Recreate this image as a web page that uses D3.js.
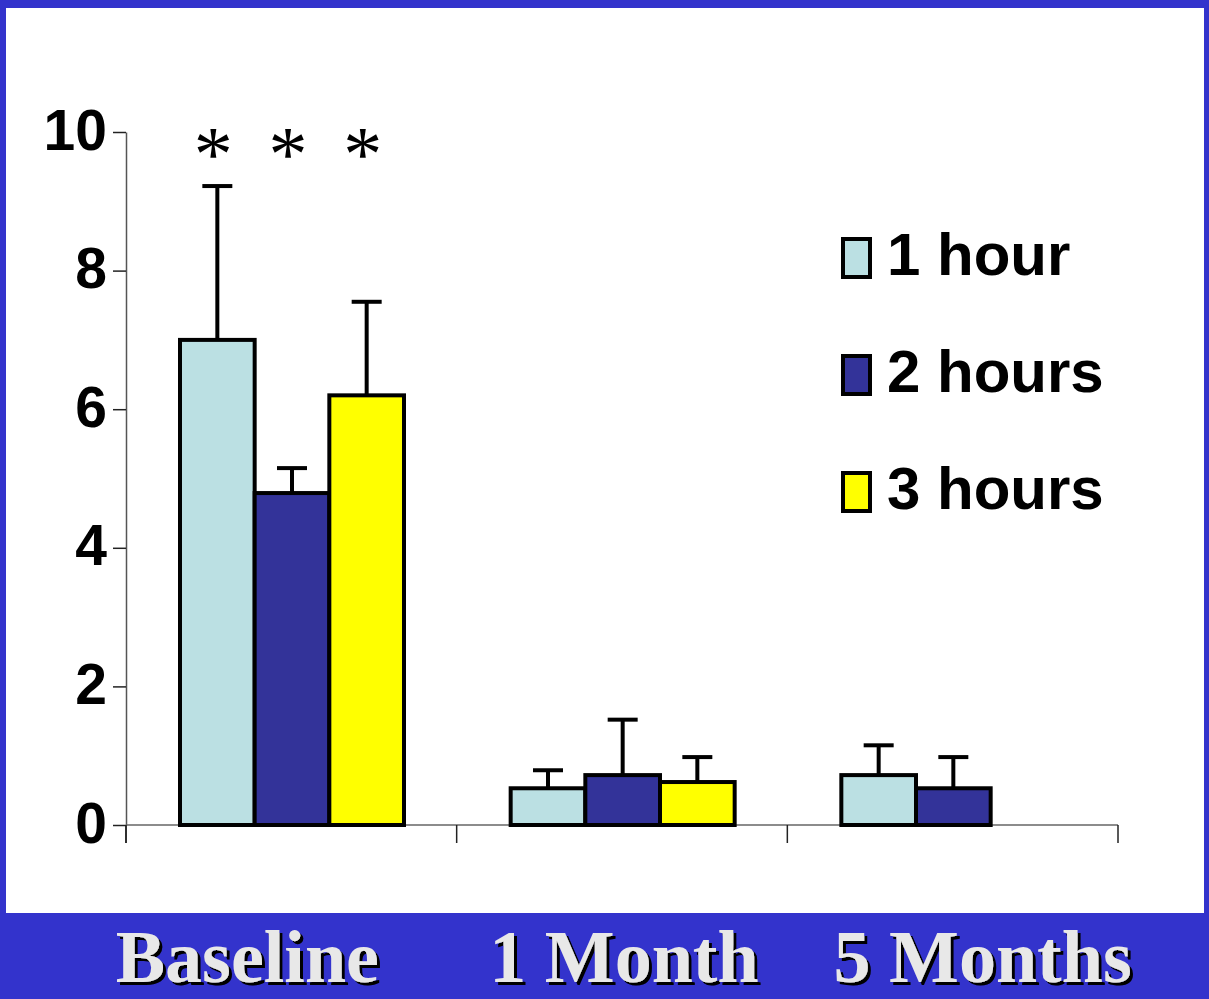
<!DOCTYPE html>
<html><head><meta charset="utf-8">
<script src="https://cdn.jsdelivr.net/npm/d3@7"></script>
<style>html,body{margin:0;padding:0;background:#3333cc;}svg{display:block;}</style>
</head><body>
<svg id="c" width="1209" height="999"></svg>
<script>
const categories = ["Baseline", "1 Month", "5 Months"];
const seriesNames = ["1 hour", "2 hours", "3 hours"];
const means = [
  [7.0, 4.79, 6.2],
  [0.53, 0.72, 0.62],
  [0.72, 0.53, null]
];
const errors = [
  [9.22, 5.15, 7.55],
  [0.79, 1.52, 0.98],
  [1.15, 0.98, null]
];
const significant = [
  [true, true, true],
  [false, false, false],
  [false, false, false]
];
const yTicks = [0, 2, 4, 6, 8, 10];
const colors = ["#bbe0e3", "#333399", "#ffff00"];

const svg = d3.select("#c");
const defs = svg.append("defs");
const f = defs.append("filter").attr("id", "sh").attr("x", "-10%").attr("y", "-10%").attr("width", "130%").attr("height", "130%");
f.append("feDropShadow").attr("dx", 3).attr("dy", 3).attr("stdDeviation", 0).attr("flood-color", "#000").attr("flood-opacity", 1);

svg.append("rect").attr("x", 0).attr("y", 0).attr("width", 1209).attr("height", 999).attr("fill", "#3333cc");
svg.append("rect").attr("x", 6).attr("y", 8).attr("width", 1198).attr("height", 905).attr("fill", "#ffffff");

const x0 = d3.scaleBand().domain(categories).range([126, 1118]).paddingInner(0).paddingOuter(0);
const y = d3.scaleLinear().domain([0, 10]).range([825, 132]);
const x1 = d3.scaleBand().domain(seriesNames).range([54, 54 + 224]);

// axes
const yAxis = svg.append("g").attr("transform", "translate(126,0)")
  .call(d3.axisLeft(y).tickValues(yTicks).tickSize(13).tickPadding(6).tickSizeOuter(0));
yAxis.select(".domain").attr("stroke", "#555").attr("stroke-width", 1.5);
yAxis.selectAll(".tick line").attr("stroke", "#222").attr("stroke-width", 1.5);
yAxis.selectAll(".tick text").attr("font-family", "Liberation Sans, Arial, sans-serif")
  .attr("font-weight", "bold").attr("font-size", 57).attr("fill", "#000").attr("dy", "0.3em");
svg.append("line").attr("x1", 126).attr("x2", 126).attr("y1", 825).attr("y2", 843).attr("stroke", "#222").attr("stroke-width", 1.5);

const xAxis = svg.append("g").attr("transform", "translate(0,825)");
xAxis.append("line").attr("x1", 126).attr("x2", 1118).attr("y1", 0).attr("y2", 0).attr("stroke", "#666").attr("stroke-width", 1.5);
const bounds = categories.map(c => x0(c)).concat([x0(categories[categories.length-1]) + x0.bandwidth()]);
xAxis.selectAll("line.tk").data(bounds).enter().append("line").attr("class", "tk")
  .attr("x1", d => d).attr("x2", d => d).attr("y1", 0).attr("y2", 18).attr("stroke", "#222").attr("stroke-width", 1.5);

// bars
const flat = [];
categories.forEach((c, i) => seriesNames.forEach((s, j) => {
  if (means[i][j] != null) flat.push({c, s, j, v: means[i][j], e: errors[i][j], sig: significant[i][j]});
}));
const cx = d => x0(d.c) + x1(d.s) + x1.bandwidth()/2;

const g = svg.append("g");
g.selectAll("line.eb").data(flat).enter().append("line").attr("class", "eb")
  .attr("x1", cx).attr("x2", cx)
  .attr("y1", d => y(d.v)).attr("y2", d => y(d.e))
  .attr("stroke", "#000").attr("stroke-width", 4);
g.selectAll("line.cap").data(flat).enter().append("line").attr("class", "cap")
  .attr("x1", d => cx(d) - 15).attr("x2", d => cx(d) + 15)
  .attr("y1", d => y(d.e)).attr("y2", d => y(d.e))
  .attr("stroke", "#000").attr("stroke-width", 4);
g.selectAll("rect.bar").data(flat).enter().append("rect").attr("class", "bar")
  .attr("x", d => x0(d.c) + x1(d.s))
  .attr("width", x1.bandwidth())
  .attr("y", d => y(d.v)).attr("height", d => y(0) - y(d.v))
  .attr("fill", d => colors[d.j]).attr("stroke", "#000").attr("stroke-width", 4);

// asterisks
g.selectAll("text.ast").data(flat.filter(d => d.sig)).enter().append("text").attr("class", "ast")
  .attr("x", d => cx(d) - 4)
  .attr("y", 180).attr("text-anchor", "middle")
  .attr("font-family", "Liberation Serif, Times New Roman, serif").attr("font-size", 78)
  .text("*");

// legend
const leg = svg.append("g");
seriesNames.forEach((s, j) => {
  const yy = 239 + j * 117;
  leg.append("rect").attr("x", 843).attr("y", yy).attr("width", 27).attr("height", 38)
    .attr("fill", colors[j]).attr("stroke", "#000").attr("stroke-width", 4);
  leg.append("text").attr("x", 887).attr("y", yy + 36).attr("font-family", "Liberation Sans, Arial, sans-serif")
    .attr("font-weight", "bold").attr("font-size", 60).attr("fill", "#000").text(s);
});

// category labels in blue band
const labelDx = [-44, 2, 30];
const lab = svg.append("g");
categories.forEach((c, i) => {
  const x = x0(c) + x0.bandwidth()/2 + labelDx[i];
  lab.append("text").attr("x", x).attr("y", 982).attr("text-anchor", "middle")
    .attr("font-family", "Liberation Serif, Times New Roman, serif").attr("font-weight", "bold")
    .attr("font-size", 74).attr("fill", "#e8e8e8").attr("filter", "url(#sh)").text(c);
});
</script>
</body></html>
